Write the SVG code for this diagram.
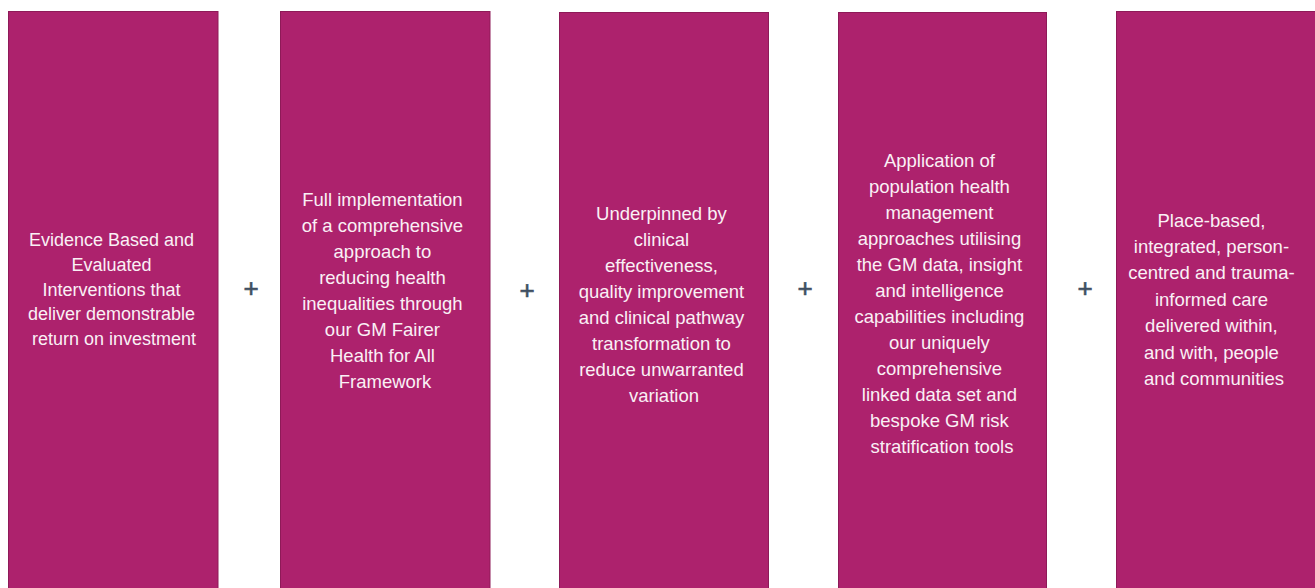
<svg xmlns="http://www.w3.org/2000/svg" width="1315" height="588" viewBox="0 0 1315 588">
<style>
.box{fill:#AD226D;stroke:#8E1A58;stroke-width:1}
.t{font-family:"Liberation Sans",Arial,sans-serif;fill:#FAF0F5;text-anchor:middle}
.plus{font-family:"Liberation Sans",Arial,sans-serif;fill:#3F4F62;stroke:#3F4F62;stroke-width:0.6;font-size:26px;text-anchor:middle}
</style>
<rect width="1315" height="588" fill="#FFFFFF"/>
<g id="node1">
<rect class="box" x="8.5" y="11.5" width="209.5" height="590"/>
<text class="t" font-size="18">
<tspan x="114" y="246">Evidence Based and</tspan>
<tspan x="114" y="271">Evaluated</tspan>
<tspan x="114" y="296">Interventions that</tspan>
<tspan x="114" y="320">deliver demonstrable</tspan>
<tspan x="114" y="345">return on investment</tspan>
</text>
</g>
<g id="node2">
<rect class="box" x="280.5" y="11.5" width="209.5" height="590"/>
<text class="t" font-size="18.5">
<tspan x="385" y="206">Full implementation</tspan>
<tspan x="385" y="232">of a comprehensive</tspan>
<tspan x="385" y="258">approach to</tspan>
<tspan x="385" y="284">reducing health</tspan>
<tspan x="385" y="310">inequalities through</tspan>
<tspan x="385" y="336">our GM Fairer</tspan>
<tspan x="385" y="362">Health for All</tspan>
<tspan x="385" y="388">Framework</tspan>
</text>
</g>
<g id="node3">
<rect class="box" x="559.5" y="12.5" width="209" height="590"/>
<text class="t" font-size="18.5">
<tspan x="664" y="220">Underpinned by</tspan>
<tspan x="664" y="246">clinical</tspan>
<tspan x="664" y="272">effectiveness,</tspan>
<tspan x="664" y="298">quality improvement</tspan>
<tspan x="664" y="324">and clinical pathway</tspan>
<tspan x="664" y="350">transformation to</tspan>
<tspan x="664" y="376">reduce unwarranted</tspan>
<tspan x="664" y="402">variation</tspan>
</text>
</g>
<g id="node4">
<rect class="box" x="838.5" y="12.5" width="208" height="590"/>
<text class="t" font-size="18.5">
<tspan x="942" y="167">Application of</tspan>
<tspan x="942" y="193">population health</tspan>
<tspan x="942" y="219">management</tspan>
<tspan x="942" y="245">approaches utilising</tspan>
<tspan x="942" y="271">the GM data, insight</tspan>
<tspan x="942" y="297">and intelligence</tspan>
<tspan x="942" y="323">capabilities including</tspan>
<tspan x="942" y="349">our uniquely</tspan>
<tspan x="942" y="375">comprehensive</tspan>
<tspan x="942" y="401">linked data set and</tspan>
<tspan x="942" y="427">bespoke GM risk</tspan>
<tspan x="942" y="453">stratification tools</tspan>
</text>
</g>
<g id="node5">
<rect class="box" x="1116.5" y="11.5" width="210" height="590"/>
<text class="t" font-size="18.5">
<tspan x="1214" y="227">Place-based,</tspan>
<tspan x="1214" y="253">integrated, person-</tspan>
<tspan x="1214" y="279">centred and trauma-</tspan>
<tspan x="1214" y="306">informed care</tspan>
<tspan x="1214" y="332">delivered within,</tspan>
<tspan x="1214" y="359">and with, people</tspan>
<tspan x="1214" y="385">and communities</tspan>
</text>
</g>
<g id="connectors">
<text class="plus" x="251" y="297">+</text>
<text class="plus" x="527" y="299">+</text>
<text class="plus" x="805" y="297">+</text>
<text class="plus" x="1085" y="297">+</text>
</g>
</svg>
